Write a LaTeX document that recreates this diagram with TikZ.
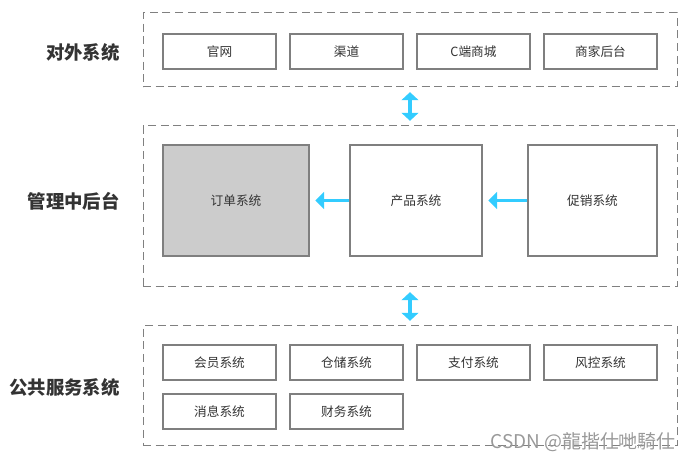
\documentclass[tikz,border=0pt]{standalone}
\usepackage{fontspec}
\setmainfont{Noto Sans CJK SC}
\usepackage{tikz}
\usetikzlibrary{arrows.meta}
\definecolor{boxgray}{HTML}{7F7F7F}
\definecolor{dashgray}{HTML}{808080}
\definecolor{arrowblue}{HTML}{33CCFF}
\definecolor{textdark}{HTML}{333333}

\begin{document}
\begin{tikzpicture}[
  x=0.75pt, y=-0.75pt,
  every node/.style={align=center, text=textdark},
  group/.style={draw=dashgray, line width=0.75pt, dash pattern=on 6pt off 3.5pt,
    minimum width=400.5pt, inner sep=0pt},
  sysbox/.style={draw=boxgray, line width=1.5pt, minimum width=84.75pt,
    minimum height=26.25pt, inner sep=0pt, font=\fontsize{9.5pt}{11pt}\selectfont},
  bigbox/.style={sysbox, minimum height=83.25pt},
  layer/.style={anchor=east, inner sep=0pt, font=\fontsize{13.8pt}{16pt}\selectfont\bfseries},
  to/.style={-{Triangle[width=12.5pt,length=6.5pt]}, arrowblue, line width=2.7pt,
    shorten >=4pt},
  both/.style={{Triangle[width=12.5pt,length=6pt]}-{Triangle[width=12.5pt,length=6pt]},
    arrowblue, line width=2.7pt, shorten >=3.5pt, shorten <=3.5pt}]

  \useasboundingbox (0,0) rectangle (690,463);

  % the three layers
  \node[group, minimum height=55.5pt] (outer) at (410,50) {};
  \node[group, minimum height=120.75pt] (middle) at (410,206.5) {};
  \node[group, minimum height=90pt] (public) at (410,386) {};

  \node[layer] (outer_label) at (120,52) {对外系统};
  \node[layer] (middle_label) at (120,201.5) {管理中后台};
  \node[layer] (public_label) at (120,387.5) {公共服务系统};

  % outer systems
  \node[sysbox] (website) at (219.5,51.5) {官网};
  \node[sysbox] (channel) at (346.5,51.5) {渠道};
  \node[sysbox] (mall) at (473.5,51.5) {C端商城};
  \node[sysbox] (merchant) at (600.5,51.5) {商家后台};

  % middle systems
  \node[bigbox, fill=black!20, minimum width=109.5pt] (order) at (236,200.5) {订单系统};
  \node[bigbox, minimum width=99pt] (product) at (416,200.5) {产品系统};
  \node[bigbox, minimum width=96.75pt] (promotion) at (592.5,200.5) {促销系统};

  % public services
  \node[sysbox] (member) at (219.5,363) {会员系统};
  \node[sysbox] (storage) at (346.5,363) {仓储系统};
  \node[sysbox] (payment) at (473.5,363) {支付系统};
  \node[sysbox] (risk) at (600.5,363) {风控系统};
  \node[sysbox] (message) at (219.5,411.5) {消息系统};
  \node[sysbox] (finance) at (346.5,411.5) {财务系统};

  % arrows
  \draw[both] (outer) -- (middle);
  \draw[both] (middle) -- (public);
  \draw[to] (product) -- (order);
  \draw[to] (promotion) -- (product);

  \node[anchor=east, inner sep=0pt, text=black!40, font=\fontsize{14.2pt}{16pt}\selectfont] (mark) at (676,442) {CSDN @龍揩仕哋騎仕};
\end{tikzpicture}
\end{document}
